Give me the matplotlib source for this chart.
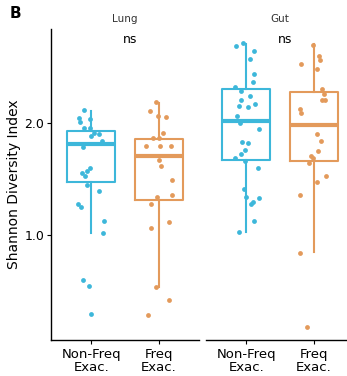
import matplotlib
matplotlib.use("Agg")
import matplotlib.pyplot as plt

# categories and panels
groups = ["Non-Freq\nExac.", "Freq\nExac."]
panels = ["Lung", "Gut"]
cols = ["#3DB7DA", "#E39A5B"]

# box statistics (per panel: non-freq, freq)
q1 = {"Lung": [1.47, 1.31], "Gut": [1.666, 1.66]}
med = {"Lung": [1.81, 1.70], "Gut": [2.01, 1.975]}
q3 = {"Lung": [1.926, 1.85], "Gut": [2.30, 2.27]}
whislo = {"Lung": [1.024, 0.54], "Gut": [1.027, 0.85]}
whishi = {"Lung": [2.10, 2.175], "Gut": [2.70, 2.70]}

# jittered points: shannon values and jitter offsets
lung_nf = [2.113, 2.039, 2.033, 2.004, 1.950, 1.950, 1.906, 1.900, 1.876, 1.838,
           1.784, 1.598, 1.571, 1.553, 1.527, 1.447, 1.394, 1.279, 1.252, 1.128,
           1.021, 0.604, 0.551, 0.303]
lung_nf_jit = [-0.104, -0.18, -0.025, -0.164, -0.115, -0.015, 0.045, 0.109, 0.0, 0.164,
               -0.119, -0.015, -0.06, -0.134, -0.09, -0.06, 0.119, -0.194, -0.149, 0.194,
               0.179, -0.119, -0.03, 0.0]
lung_f = [2.186, 2.104, 2.059, 2.046, 1.906, 1.862, 1.864, 1.796, 1.796, 1.796,
          1.663, 1.618, 1.487, 1.358, 1.338, 1.279, 1.117, 1.063, 0.536, 0.427, 0.291]
lung_f_jit = [-0.034, -0.13, -0.01, 0.115, 0.064, -0.085, 0.005, -0.184, 0.02, 0.19,
              0.005, 0.04, 0.2, 0.199, -0.025, -0.119, 0.154, -0.109, -0.042, 0.16, -0.152]
gut_nf = [2.681, 2.707, 2.634, 2.563, 2.432, 2.361, 2.314, 2.281, 2.237, 2.164,
          2.197, 2.148, 2.138, 2.059, 1.995, 1.941, 1.831, 1.82, 1.76, 1.72,
          1.687, 1.66, 1.595, 1.406, 1.335, 1.327, 1.299, 1.276, 1.126, 1.028]
gut_nf_jit = [-0.154, -0.055, 0.119, 0.048, 0.119, 0.1, -0.164, -0.075, 0.057, 0.127,
              -0.075, -0.107, 0.025, -0.134, -0.1, 0.194, -0.072, 0.027, -0.02, -0.087,
              -0.172, -0.015, 0.169, -0.03, -0.003, 0.189, 0.1, 0.075, 0.115, -0.115]
gut_f = [2.689, 2.594, 2.556, 2.518, 2.474, 2.297, 2.25, 2.199, 2.199, 2.12,
         2.083, 1.902, 1.835, 1.746, 1.705, 1.687, 1.642, 1.529, 1.476, 1.354,
         0.841, 0.187]
gut_f_jit = [-0.004, 0.075, 0.1, -0.182, 0.057, 0.124, 0.16, 0.124, 0.169, -0.206,
             -0.19, 0.052, 0.116, 0.072, -0.037, -0.015, -0.067, 0.187, 0.055, -0.199,
             -0.199, -0.104]

points = {
    "Lung": [(lung_nf, lung_nf_jit), (lung_f, lung_f_jit)],
    "Gut": [(gut_nf, gut_nf_jit), (gut_f, gut_f_jit)],
}

W, H = 347, 376
fig = plt.figure(figsize=(W / 100, H / 100), dpi=100)
ax_l = fig.add_axes([51 / W, 36 / H, 148 / W, 311 / H])
ax_r = fig.add_axes([206 / W, 36 / H, 148 / W, 311 / H])

for ax, panel in zip([ax_l, ax_r], panels):
    for i in range(2):
        st = [{"med": med[panel][i], "q1": q1[panel][i], "q3": q3[panel][i],
               "whislo": whislo[panel][i], "whishi": whishi[panel][i], "fliers": []}]
        ax.bxp(st, positions=[i], widths=0.71, showcaps=False, showfliers=False,
               boxprops=dict(color=cols[i], linewidth=1.5),
               whiskerprops=dict(color=cols[i], linewidth=1.5),
               medianprops=dict(color=cols[i], linewidth=3.0, solid_capstyle="butt"))
        vals, jit = points[panel][i]
        ax.scatter([i + j for j in jit], vals, s=12, color=cols[i], linewidths=0, zorder=3)
    ax.set_xlim(-0.6, 1.6)
    ax.set_ylim(0.07, 2.83)
    ax.set_xticks([0, 1])
    ax.set_xticklabels(groups, fontsize=9.5, linespacing=0.95)
    ax.spines["top"].set_visible(False)
    ax.spines["right"].set_visible(False)
    ax.spines["bottom"].set_linewidth(1.0)
    ax.spines["left"].set_linewidth(1.0)
    ax.tick_params(axis="x", length=3, width=0.8, pad=3)
    ax.text(0.5, 1.032, panel, transform=ax.transAxes, ha="center", va="center",
            fontsize=7.5, color="#333333")
    ax.text(0.57, 2.734, "ns", ha="center", va="center", fontsize=9)

ax_l.set_yticks([1.0, 2.0])
ax_l.set_yticklabels(["1.0", "2.0"], fontsize=9)
ax_l.tick_params(axis="y", length=3, width=0.8, pad=2)
ax_l.set_ylabel("Shannon Diversity Index", fontsize=10, labelpad=2)

ax_r.spines["left"].set_visible(False)
ax_r.set_yticks([])

fig.text(15 / W, 1 - 14 / H, "B", fontsize=11, fontweight="bold", ha="center", va="center")

fig.savefig("out.png", dpi=100)
